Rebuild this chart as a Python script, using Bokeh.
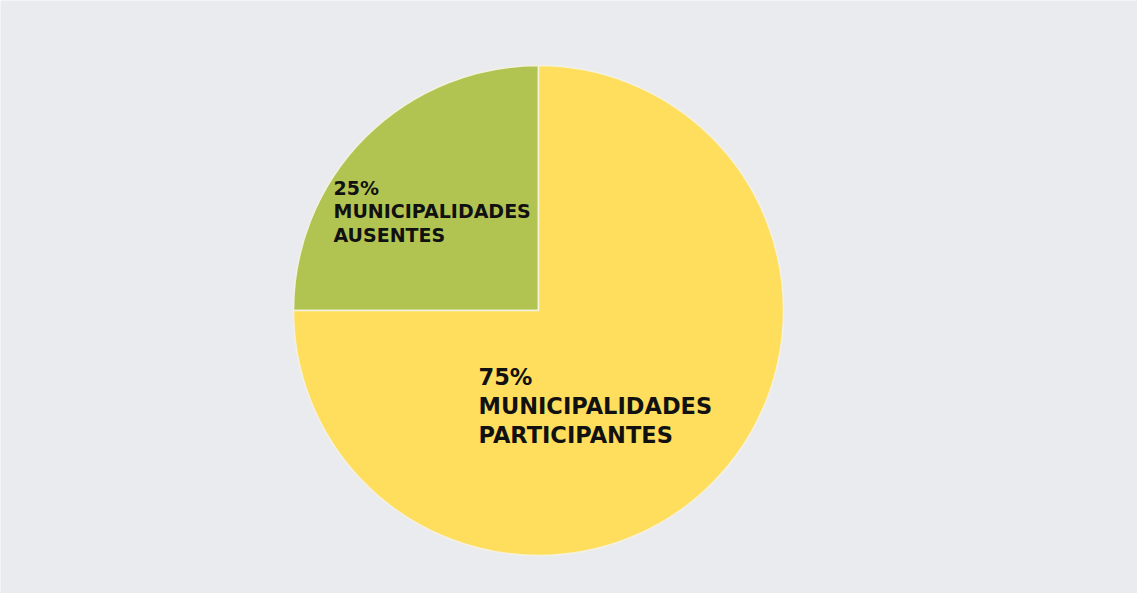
import math
from bokeh.plotting import figure
from bokeh.models import Range1d, ColumnDataSource
from bokeh.core.properties import value
from bokeh.embed import file_html
from bokeh.resources import INLINE

# ---- data ----
categories = ["MUNICIPALIDADES AUSENTES", "MUNICIPALIDADES PARTICIPANTES"]
shares = [25, 75]
colors = ["#B1C452", "#FEDE5C"]
labels = ["25%\nMUNICIPALIDADES\nAUSENTES", "75%\nMUNICIPALIDADES\nPARTICIPANTES"]

# ---- layout ----
W, H = 1137, 593
CX, CY = 538, H - 310
R = 245

total = sum(shares)
starts, ends = [], []
a = math.pi / 2
for s in shares:
    starts.append(a)
    a += 2 * math.pi * s / total
    ends.append(a)

src = ColumnDataSource(dict(cat=categories, share=shares, color=colors,
                            start=starts, end=ends))

p = figure(width=W, height=H, output_backend="svg", toolbar_location=None,
           x_range=Range1d(0, W), y_range=Range1d(0, H), min_border=0,
           background_fill_color="#EAEBEF", border_fill_color="#EAEBEF")
p.axis.visible = False
p.grid.visible = False
p.outline_line_color = None

p.wedge(x=CX, y=CY, radius=R, start_angle="start", end_angle="end",
        fill_color="color", line_color="#F4F1E0", line_width=1.5, source=src)

# label placement (top-left corner of each text block)
lab_pos = [(CX - 205, H - 176), (CX - 60, H - 363)]
lab_sizes = ["19px", "22.5px"]
lab_lh = [1.08, 1.13]
for txt, (lx, ly), fs, lh in zip(labels, lab_pos, lab_sizes, lab_lh):
    p.text(x=[lx], y=[ly], text=[txt], text_font=value("DejaVu Sans"),
           text_font_style="bold", text_font_size=fs, text_color="#111111",
           text_align="left", text_baseline="top", text_line_height=lh)

open("out.html", "w").write(file_html(p, INLINE))
